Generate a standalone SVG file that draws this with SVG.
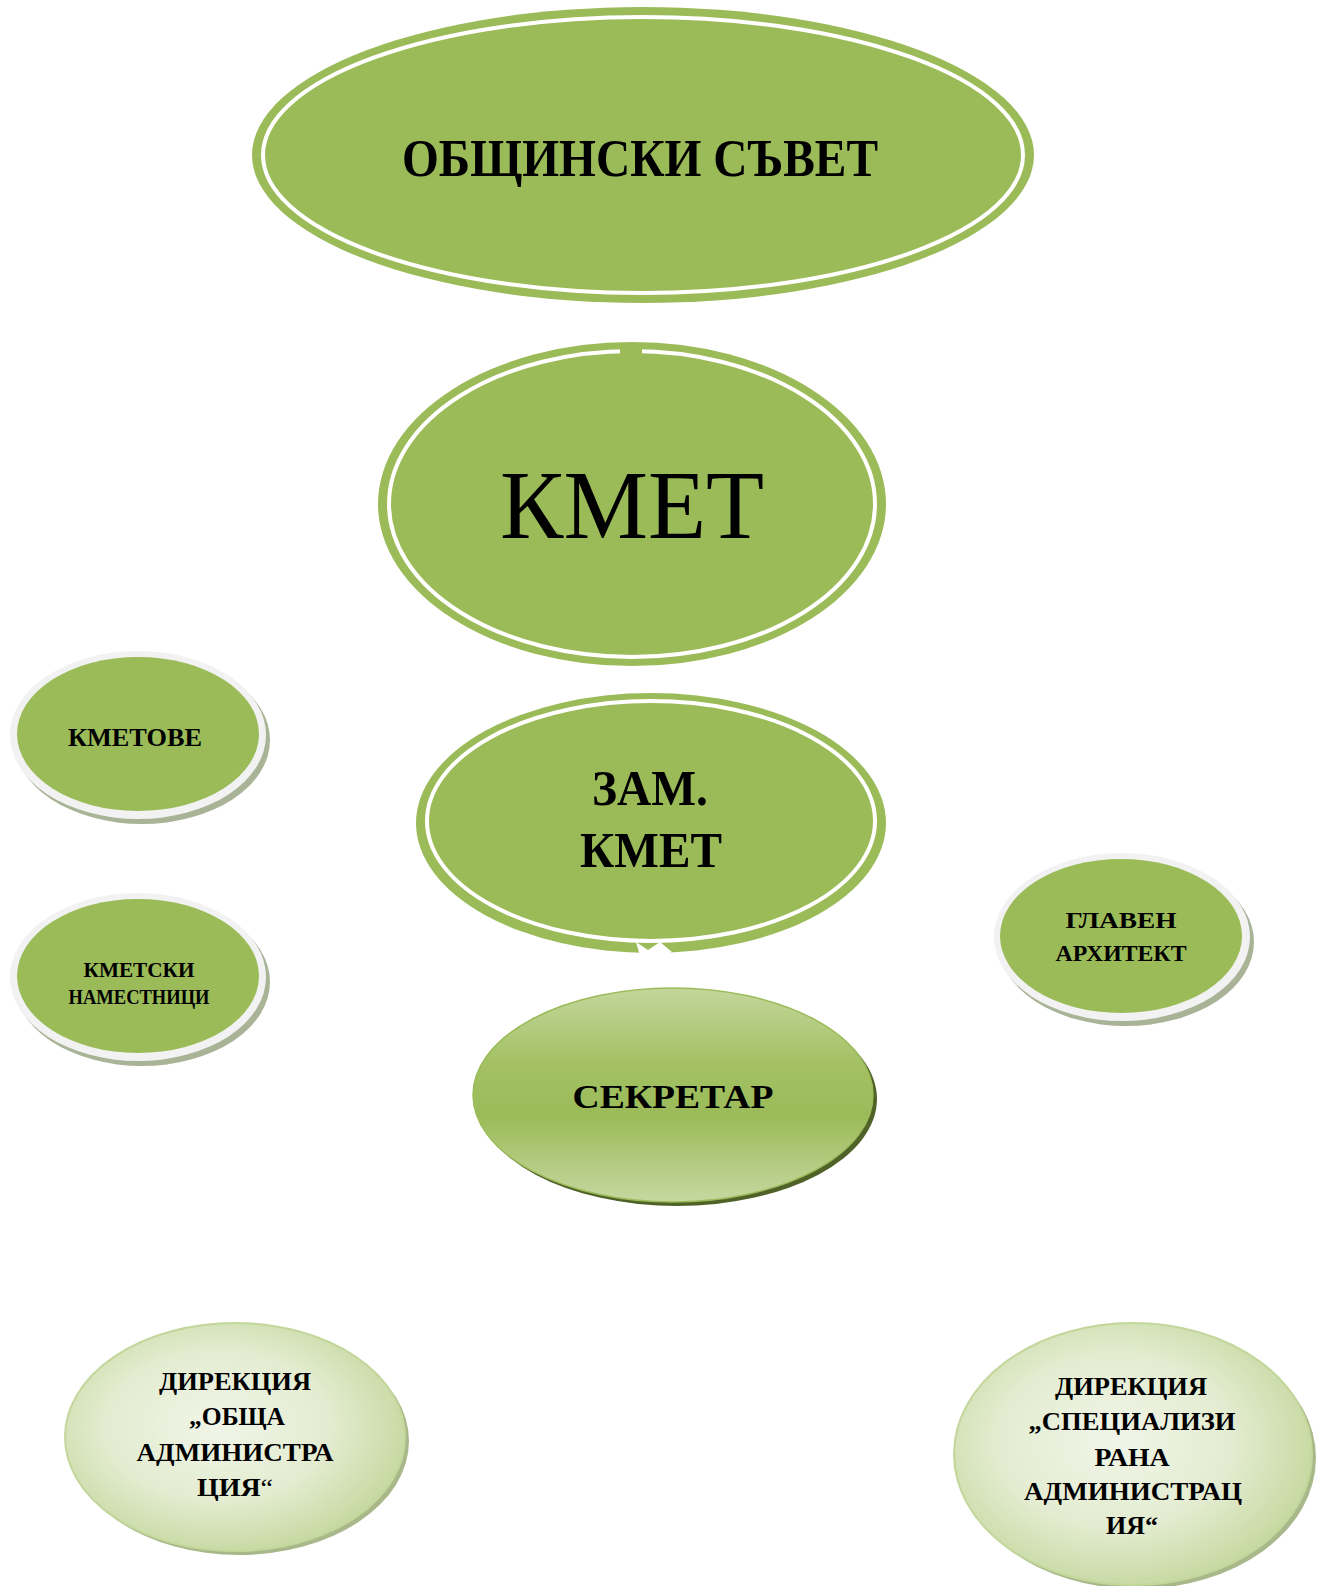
<svg xmlns="http://www.w3.org/2000/svg" width="1320" height="1586" viewBox="0 0 1320 1586">
<defs>
<style>
.t{font-family:"Liberation Serif","Times New Roman",serif;fill:#000;text-anchor:middle;dominant-baseline:central}
.b{font-weight:bold}
.g{fill:#9bbb59}
.ring{fill:none;stroke:#fff;stroke-width:4}
.gr{fill:#f2f2f2}
.sh{fill:#a9b396}
</style>
<linearGradient id="sec" x1="0" y1="0" x2="0" y2="1">
<stop offset="0" stop-color="#c3d69b"/>
<stop offset="0.35" stop-color="#a3c164"/>
<stop offset="0.6" stop-color="#9bbb59"/>
<stop offset="1" stop-color="#c6d8a1"/>
</linearGradient>
<radialGradient id="dir" cx="0.45" cy="0.45" r="0.6">
<stop offset="0" stop-color="#f1f5e8"/>
<stop offset="0.55" stop-color="#e3ecd0"/>
<stop offset="1" stop-color="#c3d69b"/>
</radialGradient>
</defs>
<rect width="1320" height="1586" fill="#fff"/>
<g id="connectors"></g>
<g id="obshtinski-savet">
<ellipse class="g" cx="643" cy="155" rx="391" ry="148"/>
<ellipse class="ring" cx="643" cy="155" rx="380" ry="138"/>
<text class="t b" x="640" y="158" font-size="52" textLength="476" lengthAdjust="spacingAndGlyphs">ОБЩИНСКИ СЪВЕТ</text>
</g>
<g id="kmet">
<ellipse class="g" cx="632" cy="504" rx="254" ry="162"/>
<ellipse class="ring" cx="632" cy="504" rx="243" ry="153"/>
<rect x="620" y="349" width="22" height="6" fill="#9bbb59"/>
<text class="t" x="632" y="505" font-size="98" textLength="264" lengthAdjust="spacingAndGlyphs">КМЕТ</text>
</g>
<g id="kmetove">
<ellipse class="sh" cx="142" cy="740" rx="128" ry="84"/>
<ellipse class="gr" cx="138" cy="735" rx="128" ry="84"/>
<ellipse class="g" cx="138" cy="734" rx="121" ry="77"/>
<text class="t b" x="135" y="737" font-size="25" textLength="134" lengthAdjust="spacingAndGlyphs">КМЕТОВЕ</text>
</g>
<g id="kmetski-namestnitsi">
<ellipse class="sh" cx="142" cy="982" rx="128" ry="84"/>
<ellipse class="gr" cx="138" cy="977" rx="128" ry="84"/>
<ellipse class="g" cx="138" cy="976" rx="121" ry="77"/>
<text class="t b" x="139" y="970" font-size="20" textLength="111" lengthAdjust="spacingAndGlyphs">КМЕТСКИ</text>
<text class="t b" x="139" y="997" font-size="20" textLength="141" lengthAdjust="spacingAndGlyphs">НАМЕСТНИЦИ</text>
</g>
<g id="zam-kmet">
<ellipse class="g" cx="651" cy="823" rx="235" ry="130"/>
<ellipse class="ring" cx="651" cy="821" rx="224" ry="120"/>
<path d="M636 942 L648 950 L660 942 L672 952 L660 956 L640 956 Z" fill="#fff"/>
<text class="t b" x="650" y="788" font-size="50" textLength="116" lengthAdjust="spacingAndGlyphs">ЗАМ.</text>
<text class="t b" x="651" y="850" font-size="50" textLength="142" lengthAdjust="spacingAndGlyphs">КМЕТ</text>
</g>
<g id="glaven-arhitekt">
<ellipse class="sh" cx="1126" cy="942" rx="128" ry="84"/>
<ellipse class="gr" cx="1122" cy="937" rx="128" ry="84"/>
<ellipse class="g" cx="1121" cy="936" rx="121" ry="77"/>
<text class="t b" x="1121" y="920" font-size="23" textLength="111" lengthAdjust="spacingAndGlyphs">ГЛАВЕН</text>
<text class="t b" x="1121" y="953" font-size="23" textLength="131" lengthAdjust="spacingAndGlyphs">АРХИТЕКТ</text>
</g>
<g id="sekretar">
<ellipse cx="677" cy="1099" rx="200" ry="107" fill="#4f6228"/>
<ellipse cx="673" cy="1095" rx="200" ry="107" fill="url(#sec)" stroke="#9bbb59" stroke-width="1.5"/>
<text class="t b" x="673" y="1096" font-size="34" textLength="201" lengthAdjust="spacingAndGlyphs">СЕКРЕТАР</text>
</g>
<g id="direktsia-obshta">
<ellipse cx="239" cy="1441" rx="170" ry="114" fill="#a9b88a"/>
<ellipse cx="235" cy="1437" rx="170" ry="114" fill="url(#dir)" stroke="#c3d69b" stroke-width="2"/>
<text class="t b" x="235" y="1381" font-size="26" textLength="152" lengthAdjust="spacingAndGlyphs">ДИРЕКЦИЯ</text>
<text class="t b" x="237" y="1416" font-size="26" textLength="96" lengthAdjust="spacingAndGlyphs">„ОБЩА</text>
<text class="t b" x="235" y="1452" font-size="26" textLength="197" lengthAdjust="spacingAndGlyphs">АДМИНИСТРА</text>
<text class="t" x="235" y="1487" font-size="26" textLength="76" lengthAdjust="spacingAndGlyphs"><tspan font-weight="bold">ЦИЯ</tspan>“</text>
</g>
<g id="direktsia-spetsializirana">
<ellipse cx="1137" cy="1458" rx="179" ry="131" fill="#a9b88a"/>
<ellipse cx="1133" cy="1454" rx="179" ry="131" fill="url(#dir)" stroke="#c3d69b" stroke-width="2"/>
<text class="t b" x="1131" y="1386" font-size="26" textLength="152" lengthAdjust="spacingAndGlyphs">ДИРЕКЦИЯ</text>
<text class="t b" x="1132" y="1421" font-size="26" textLength="207" lengthAdjust="spacingAndGlyphs">„СПЕЦИАЛИЗИ</text>
<text class="t b" x="1132" y="1457" font-size="26" textLength="75" lengthAdjust="spacingAndGlyphs">РАНА</text>
<text class="t b" x="1133" y="1491" font-size="26" textLength="218" lengthAdjust="spacingAndGlyphs">АДМИНИСТРАЦ</text>
<text class="t b" x="1132" y="1525" font-size="26" textLength="52" lengthAdjust="spacingAndGlyphs">ИЯ“</text>
</g>
</svg>
